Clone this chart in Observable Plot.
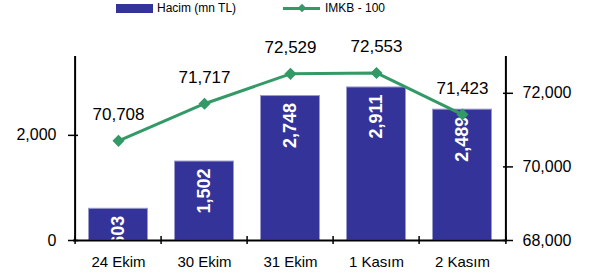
<!DOCTYPE html>
<html><head><meta charset="utf-8">
<script src="https://cdn.jsdelivr.net/npm/d3@7"></script>
<script src="https://cdn.jsdelivr.net/npm/@observablehq/plot@0.6"></script>
<style>
body{margin:0;background:#fff;font-family:"Liberation Sans",Arial,sans-serif;}
#wrap{position:relative;width:597px;height:280px;overflow:hidden;}
#legend{position:absolute;left:0;top:0;width:597px;height:18px;font-size:12px;color:#000;}
#chart{position:absolute;left:0;top:18px;}
.sw{position:absolute;}
.lt{position:absolute;top:1px;line-height:14px;white-space:nowrap;}
</style></head>
<body><div id="wrap"><div id="legend"></div><div id="chart"></div></div>
<script>
const dates = ["24 Ekim", "30 Ekim", "31 Ekim", "1 Kasım", "2 Kasım"];
const hacim = [603, 1502, 2748, 2911, 2489];
const imkb = [70708, 71717, 72529, 72553, 71423];
const leftTicks = [0, 2000];
const rightTicks = [68000, 70000, 72000];
const seriesNames = ["Hacim (mn TL)", "IMKB - 100"];
const barColor = "#333399", lineColor = "#339966";

const data = dates.map((d, i) => ({date: d, vol: hacim[i], idx: imkb[i]}));
const W = 597, H = 262, mL = 73, mR = 90, mT = 38, mB = 40;
const leftMax = 3500, rMin = 68000, rMax = 73000;
const toLeft = v => (v - rMin) / (rMax - rMin) * leftMax;
const fromLeft = v => Math.round(v / leftMax * (rMax - rMin) + rMin);
const fmt = d3.format(",");
const bw = (W - mL - mR) / dates.length;

// legend
const lg = document.getElementById("legend");
lg.innerHTML = `
<div class="sw" style="left:116px;top:4px;width:37px;height:9px;background:${barColor}"></div>
<div class="lt" style="left:157px">${seriesNames[0]}</div>
<div class="sw" style="left:283px;top:7px;width:37px;height:3px;background:${lineColor}"></div>
<div class="sw" style="left:299px;top:5px;width:6px;height:6px;background:${lineColor};transform:rotate(45deg)"></div>
<div class="lt" style="left:325px">${seriesNames[1]}</div>`;

const chart = Plot.plot({
  width: W, height: H,
  marginLeft: mL, marginRight: mR, marginTop: mT, marginBottom: mB,
  style: {fontFamily: '"Liberation Sans", Arial, sans-serif', color: "#000", background: "#fff"},
  x: {type: "band", domain: dates, padding: 0},
  y: {domain: [0, leftMax]},
  marks: [
    Plot.barY(data, {x: "date", y: "vol", fill: barColor, stroke: "#9a9acc", strokeWidth: 1, insetLeft: 13.5, insetRight: 13.5}),
    Plot.text(data, {x: "date", y: "vol", text: d => fmt(d.vol), rotate: -90, textAnchor: "end", dy: 7,
      fill: "#fff", fontWeight: "bold", fontSize: 18}),
    Plot.ruleY([0], {stroke: "#000", strokeWidth: 2}),
    Plot.ruleX([dates[0]], {dx: -bw / 2, stroke: "#000", strokeWidth: 2}),
    Plot.ruleX([dates[dates.length - 1]], {dx: bw / 2, stroke: "#000", strokeWidth: 2}),
    Plot.ruleX(dates, {y1: 0, y2: 0, insetTop: -4, insetBottom: -4, dx: -bw / 2, stroke: "#000", strokeWidth: 1.5}),
    Plot.ruleX([dates[dates.length - 1]], {y1: 0, y2: 0, insetTop: -4, insetBottom: -4, dx: bw / 2, stroke: "#000", strokeWidth: 1.5}),
    Plot.line(data, {x: "date", y: d => toLeft(d.idx), stroke: lineColor, strokeWidth: 3}),
    Plot.dot(data, {x: "date", y: d => toLeft(d.idx), symbol: "diamond2", r: 4.5, fill: lineColor, stroke: lineColor}),
    Plot.text(data, {x: "date", y: d => toLeft(d.idx), text: d => fmt(d.idx), dy: -26, fontSize: 17, fill: "#000"}),
    Plot.axisY({ticks: leftTicks, tickFormat: fmt, anchor: "left", tickSize: 10, dx: 5, tickPadding: 12,
      fontSize: 16, strokeWidth: 1.5, label: null}),
    Plot.axisY({ticks: rightTicks.map(toLeft), tickFormat: v => fmt(fromLeft(v)), anchor: "right", tickSize: 10, dx: -5, tickPadding: 10,
      fontSize: 16, strokeWidth: 1.5, label: null}),
    Plot.axisX({tickSize: 0, tickPadding: 16, fontSize: 15, label: null})
  ]
});
document.getElementById("chart").appendChild(chart);
</script></body></html>
